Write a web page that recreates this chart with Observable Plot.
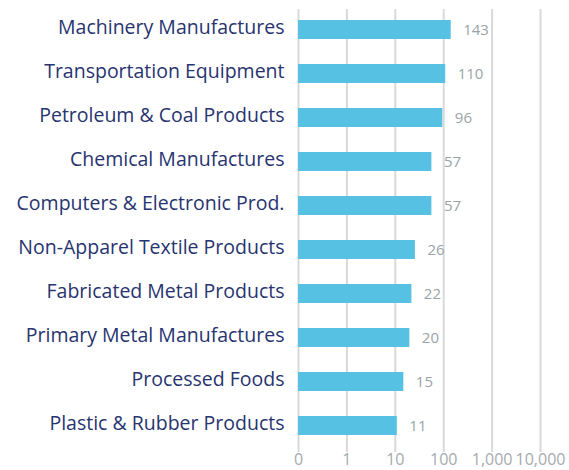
<!DOCTYPE html>
<html>
<head>
<meta charset="utf-8">
<script src="https://cdn.jsdelivr.net/npm/d3@7"></script>
<script src="https://cdn.jsdelivr.net/npm/@observablehq/plot@0.6"></script>
<style>
  html, body { margin: 0; padding: 0; background: #fff; }
  #chart svg { display: block; }
</style>
</head>
<body>
<div id="chart"></div>
<script>
const categories = [
  "Machinery Manufactures",
  "Transportation Equipment",
  "Petroleum & Coal Products",
  "Chemical Manufactures",
  "Computers & Electronic Prod.",
  "Non-Apparel Textile Products",
  "Fabricated Metal Products",
  "Primary Metal Manufactures",
  "Processed Foods",
  "Plastic & Rubber Products"
];
const values = [143, 110, 96, 57, 57, 26, 22, 20, 15, 11];
const tickValues = [0.1, 1, 10, 100, 1000, 10000];
const tickLabels = ["0", "1", "10", "100", "1,000", "10,000"];

const data = categories.map((c, i) => ({category: c, value: values[i]}));
const labelOf = new Map(tickValues.map((t, i) => [t, tickLabels[i]]));

const chart = Plot.plot({
  width: 569,
  height: 470,
  marginLeft: 298,
  marginRight: 29,
  marginTop: 6,
  marginBottom: 22,
  style: {fontFamily: "'Open Sans', sans-serif", background: "#fff"},
  x: {type: "log", domain: [0.1, 10000]},
  y: {domain: categories, paddingInner: 0.57, paddingOuter: 0.285},
  marks: [
    Plot.ruleX(tickValues, {stroke: "#d9d9d9", strokeWidth: 2, insetTop: 3, insetBottom: -4}),
    Plot.barX(data, {x1: 0.1, x2: "value", y: "category", fill: "#56c1e3"}),
    Plot.text(data, {x: "value", y: "category", text: d => String(d.value), dx: 12, textAnchor: "start", fill: "#9aa3a8", fontSize: 15}),
    Plot.axisX({ticks: tickValues, tickFormat: d => labelOf.get(d), tickSize: 0, tickPadding: 5, fontSize: 16, color: "#a6aaae", label: null}),
    Plot.axisY({tickSize: 0, tickPadding: 14, dy: -2, fontSize: 19.5, color: "#27346f", label: null})
  ]
});
document.getElementById("chart").appendChild(chart);
</script>
</body>
</html>
